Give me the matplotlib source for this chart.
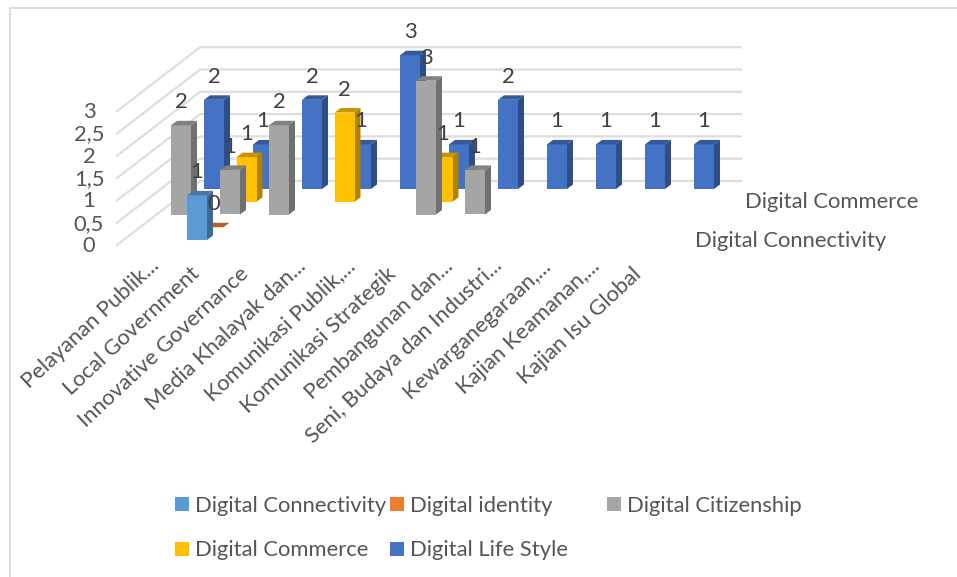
import matplotlib
matplotlib.use("Agg")
import matplotlib.pyplot as plt
from matplotlib.patches import Polygon, Rectangle
from matplotlib.colors import to_rgb

categories = ["Pelayanan Publik...", "Local Government", "Innovative Governance",
              "Media Khalayak dan...", "Komunikasi Publik,...", "Komunikasi Strategik",
              "Pembangunan dan...", "Seni, Budaya dan Industri...", "Kewarganegaraan,...",
              "Kajian Keamanan,...", "Kajian Isu Global"]

connectivity = [None, 1, None, None, None, None, None, None, None, None, None]
identity = [None, 0, None, None, None, None, None, None, None, None, None]
citizenship = [2, 1, 2, None, None, 3, 1, None, None, None, None]
commerce = [None, 1, None, 2, None, 1, None, None, None, None, None]
life_style = [2, 1, 2, 1, 3, 1, 2, 1, 1, 1, 1]

series_names = ["Digital Connectivity", "Digital identity", "Digital Citizenship",
                "Digital Commerce", "Digital Life Style"]
series_values = [connectivity, identity, citizenship, commerce, life_style]
series_colors = ["#5B9BD5", "#ED7D31", "#A5A5A5", "#FFC000", "#4472C4"]

y_ticks = [0, 0.5, 1, 1.5, 2, 2.5, 3]
y_tick_labels = ["0", "0,5", "1", "1,5", "2", "2,5", "3"]

# geometry of the oblique view, in pixels
CAT_STEP = 49.0
BAR_W = 20.0
UNIT = 44.6
DEPTH_X = 16.5
DEPTH_Y = 12.75
BAR_DX = 6.0
BAR_DY = 4.5
FONT_SIZE = 15.8
TEXT_COL = "#555555"
GRID_COL = "#DEDEDE"

plt.rcParams["font.family"] = ["Lato", "DejaVu Sans"]

fig = plt.figure(figsize=(9.57, 5.77), dpi=100)
ax = fig.add_axes([0, 0, 1, 1])
ax.set_xlim(0, 957)
ax.set_ylim(577, 0)
ax.axis("off")


def shade(color, k):
    return tuple(c * k for c in to_rgb(color))


def bar_xy(i, s, v):
    # front-left corner of the bar top for category i, series s, value v
    return 138 + CAT_STEP * i + DEPTH_X * s, 240 - DEPTH_Y * s - UNIT * v


def draw_bar(i, s, v, color):
    x, y = bar_xy(i, s, v)
    base = bar_xy(i, s, 0)[1]
    z = 3 + s
    if v > 0:
        ax.add_patch(Polygon([(x + BAR_W, y), (x + BAR_W + BAR_DX, y - BAR_DY),
                              (x + BAR_W + BAR_DX, base - BAR_DY), (x + BAR_W, base)],
                             fc=shade(color, 0.68), ec="none", zorder=10 - z))
        ax.add_patch(Rectangle((x, y), BAR_W, base - y, fc=color, ec="none", zorder=10 - z))
    ax.add_patch(Polygon([(x, y), (x + BAR_DX, y - BAR_DY),
                          (x + BAR_W + BAR_DX, y - BAR_DY), (x + BAR_W, y)],
                         fc=shade(color, 0.78), ec="none", zorder=10 - z))
    return x + BAR_W / 2, y


# chart frame, open on the right and at the bottom
ax.plot([10, 10, 957], [577, 8, 8], color="#DDDDDD", lw=1.5, zorder=0)

# walls
for t in y_ticks:
    fx, fy = 117, 245 - UNIT * t
    bx, by = 200, 181 - UNIT * t
    ax.plot([fx, bx, 741], [fy, by, by], color=GRID_COL, lw=1.6, zorder=1)

for t, lab in zip(y_ticks, y_tick_labels):
    ax.text(89, 246 - UNIT * t, lab, ha="center", va="center", fontsize=FONT_SIZE, color=TEXT_COL)

# bars, back series first
labels = []
for s in range(len(series_values) - 1, -1, -1):
    for i, v in enumerate(series_values[s]):
        if v is None:
            continue
        cx, top = draw_bar(i, s, v, series_colors[s])
        labels.append((cx, top - 23, v))

for cx, ly, v in labels:
    ax.text(cx, ly, str(v), ha="center", va="center", fontsize=FONT_SIZE, color="#404040", zorder=20)

# category labels, the shortened ones end a little higher up
for i, name in enumerate(categories):
    cut = name.endswith("...")
    ax.text((156 if cut else 148) + CAT_STEP * i, 263 if cut else 271, name, rotation=43,
            rotation_mode="anchor", ha="right", va="center", fontsize=FONT_SIZE, color=TEXT_COL)

# depth axis labels
ax.text(745, 202, "Digital Commerce", va="center", fontsize=FONT_SIZE, color=TEXT_COL)
ax.text(695, 241, "Digital Connectivity", va="center", fontsize=FONT_SIZE, color=TEXT_COL)

# legend
legend_pos = [(175, 504), (390, 504), (607, 504), (175, 549), (390, 549)]
for (lx, ly), name, col in zip(legend_pos, series_names, series_colors):
    ax.add_patch(Rectangle((lx, ly - 7), 14, 14, fc=col, ec="none"))
    ax.text(lx + 20, ly + 1.5, name, va="center", fontsize=FONT_SIZE, color=TEXT_COL)

fig.savefig("out.png", dpi=100)
